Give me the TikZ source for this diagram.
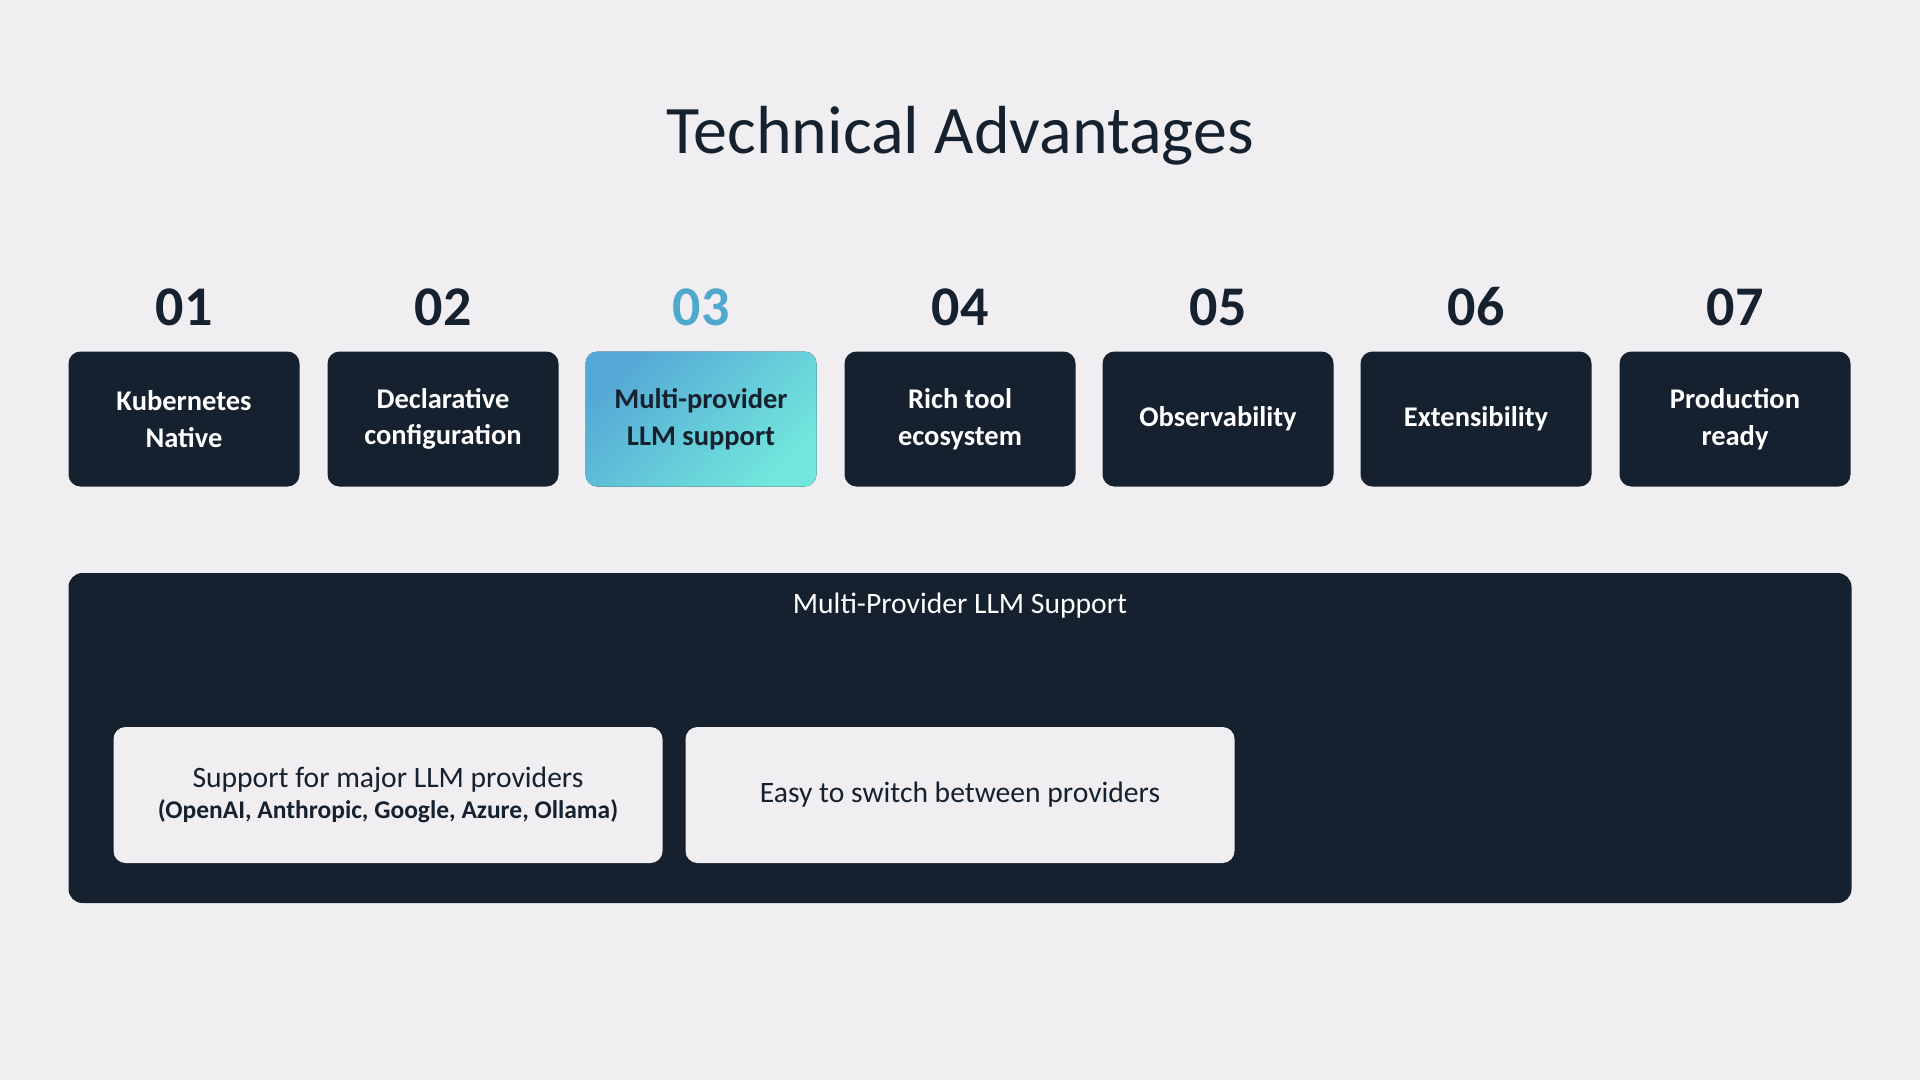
\documentclass[tikz,border=0pt]{standalone}
\usepackage{fontspec}
\setmainfont{Carlito}
\usepackage{tikz}
\usetikzlibrary{positioning}
\definecolor{pagebg}{HTML}{F0EEF1}
\definecolor{navy}{HTML}{15212F}
\definecolor{skyA}{HTML}{55A9D6}
\definecolor{skyB}{HTML}{72E6DC}
\definecolor{numblue}{HTML}{4FA9CF}
\tikzset{
  feature/.style={fill=navy, text=white, rounded corners=12pt,
    minimum width=231pt, minimum height=135pt, align=center,
    font=\bfseries\fontsize{28.5}{36.5}\selectfont},
  current/.style={feature, text=navy, left color=skyA, right color=skyB,
    shading angle=45},
  number/.style={text=navy, font=\bfseries\fontsize{56}{60}\selectfont},
  panelbox/.style={fill=navy, rounded corners=14pt,
    minimum width=1783pt, minimum height=330pt},
  point/.style={fill=pagebg, text=navy, rounded corners=12pt,
    minimum width=549pt, minimum height=136pt, align=center,
    font=\fontsize{29.6}{34}\selectfont}
}

\begin{document}
\begin{tikzpicture}[x=1pt, y=-1pt]
  \fill[pagebg] (0,0) rectangle (1920,1080);
  \useasboundingbox (0,0) rectangle (1920,1080);

  \node[text=navy, font=\fontsize{68}{80}\selectfont] (title) at (960,136) {Technical Advantages};

  \node[feature] (kube) at (184,419) {Kubernetes\\Native};
  \node[feature] (declarative) at (443,419) {Declarative\\configuration};
  \node[current] (multi) at (701,419) {Multi-provider\\LLM support};
  \node[feature] (tools) at (960,419) {Rich tool\\ecosystem};
  \node[feature] (observ) at (1218,419) {Observability};
  \node[feature] (extens) at (1476,419) {Extensibility};
  \node[feature] (prod) at (1735,419) {Production\\ready};

  \node[number] (num01) at (184,307) {01};
  \node[number] (num02) at (443,307) {02};
  \node[number, text=numblue] (num03) at (701,307) {03};
  \node[number] (num04) at (960,307) {04};
  \node[number] (num05) at (1218,307) {05};
  \node[number] (num06) at (1476,307) {06};
  \node[number] (num07) at (1735,307) {07};

  \node[panelbox] (panel) at (960,738) {};
  \node[text=white, font=\fontsize{29.6}{34}\selectfont] (paneltitle) at (960,606) {Multi-Provider LLM Support};

  \node[point] (providers) at (388,795) {Support for major LLM providers\\[-3pt]
    {\bfseries\fontsize{25.5}{28}\selectfont (OpenAI, Anthropic, Google, Azure, Ollama)}};
  \node[point] (switching) at (960,795) {Easy to switch between providers};
\end{tikzpicture}
\end{document}
